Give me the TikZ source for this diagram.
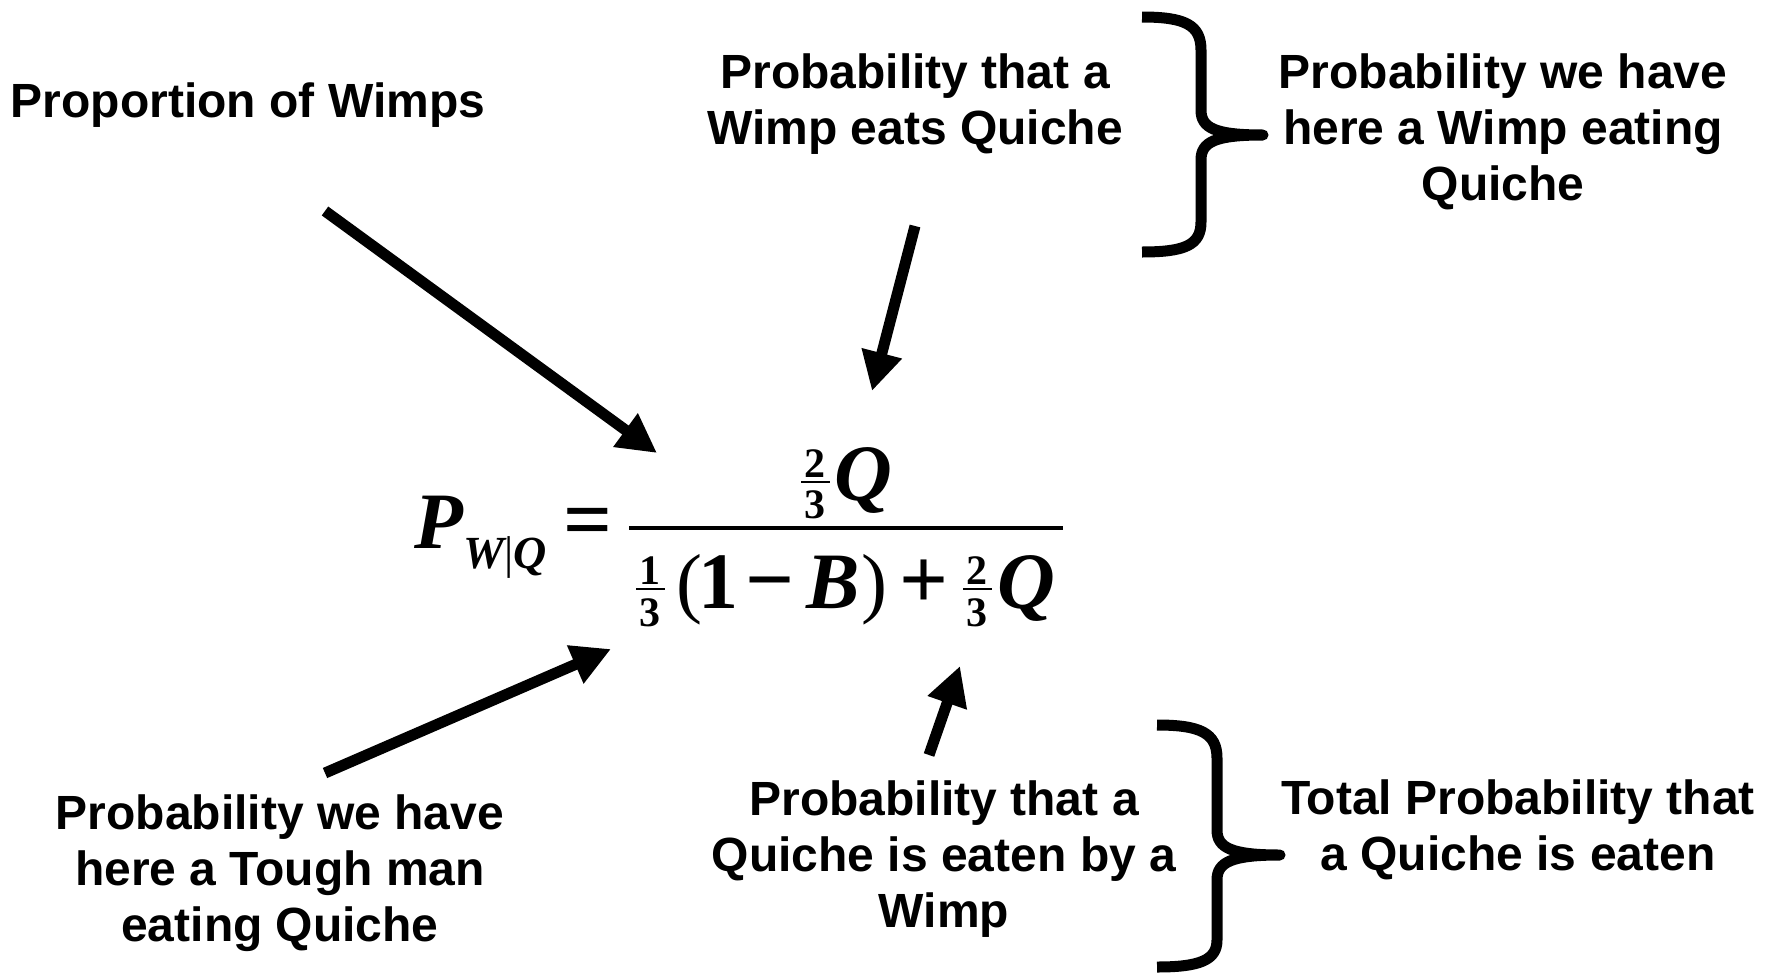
\documentclass[tikz,border=0pt]{standalone}
\usepackage{fontspec}
\setmainfont{Liberation Sans}
\newfontfamily\tnr{Liberation Serif}
\usetikzlibrary{arrows.meta}
\begin{document}
\begin{tikzpicture}[x=1pt,y=-1pt,
  lbl/.style={align=center, inner sep=0pt, font=\fontsize{48}{56}\selectfont\bfseries},
  big/.style={inner sep=0pt, anchor=base west, font=\tnr\fontsize{78}{78}\selectfont},
  bigbi/.style={big, font=\tnr\fontsize{80}{80}\selectfont\bfseries\itshape},
  bigbf/.style={big, font=\tnr\fontsize{80}{80}\selectfont\bfseries},
  bigop/.style={big, font=\tnr\fontsize{86}{86}\selectfont\bfseries},
  subsc/.style={inner sep=0pt, anchor=base west, font=\tnr\fontsize{46}{46}\selectfont\bfseries\itshape},
  sml/.style={inner sep=0pt, anchor=base, font=\tnr\fontsize{42}{42}\selectfont\bfseries},
  fracbar/.style={line width=2pt},
  mainbar/.style={line width=4pt},
  ptr/.style={line width=11pt, -{Triangle[length=39pt,width=39pt]}},
  brace/.style={line width=11pt, line join=round},
]
\useasboundingbox (0,0) rectangle (1775,972);

% labels
\node[lbl] (prop) at (248,105) {Proportion of Wimps};
\node[lbl] (wq) at (915,104) {Probability that a\\Wimp eats Quiche};
\node[lbl] (wimpq) at (1503,132) {Probability we have\\here a Wimp eating\\Quiche};
\node[lbl] (tough) at (280,873) {Probability we have\\here a Tough man\\eating Quiche};
\node[lbl] (qw) at (944,859) {Probability that a\\Quiche is eaten by a\\Wimp};
\node[lbl] (total) at (1518,830) {Total Probability that\\a Quiche is eaten};

% formula: left side
\node[bigbi] (P) at (414,548) {P};
\node[subsc] (sub) at (463,568) {W{\mdseries\upshape|}Q};
\node[bigop] (eq) at (563,548) {=};
\draw[mainbar] (629,528) -- (1063,528);

% numerator
\node[sml] (n2) at (815,477) {2};
\node[sml] (n3) at (815,518) {3};
\draw[fracbar] (801,481.5) -- (830,481.5);
\node[bigbi] (nQ) at (834,500) {Q};

% denominator
\node[sml] (d1) at (650,584) {1};
\node[sml] (d3) at (650,626) {3};
\draw[fracbar] (636,589) -- (665,589);
\node[big] (lp) at (676,608) {(};
\node[bigbf] (one) at (698,608) {1};
\node[bigop] (minus) at (745,608) {\char"2212};
\node[bigbi] (B) at (806,608) {B};
\node[big] (rp) at (861,608) {)};
\node[bigop] (plus) at (899,608) {+};
\node[sml] (e2) at (977,584) {2};
\node[sml] (e3) at (977,626) {3};
\draw[fracbar] (963,589) -- (992,589);
\node[bigbi] (dQ) at (997,608) {Q};

% arrows
\coordinate (a1s) at (325,211);
\coordinate (a1e) at (657,453);
\coordinate (a2s) at (915,226);
\coordinate (a2e) at (872,391);
\coordinate (a3s) at (325,773);
\coordinate (a3e) at (611,649);
\coordinate (a4s) at (929,755);
\coordinate (a4e) at (960,666);
\draw[ptr] (a1s) -- (a1e);
\draw[ptr] (a2s) -- (a2e);
\draw[ptr] (a3s) -- (a3e);
\draw[ptr] (a4s) -- (a4e);

% braces
\draw[brace] (1142,17) .. controls (1185,17) and (1201,25) .. (1201,50)
  -- (1201,110) .. controls (1201,128) and (1215,135) .. (1263,135)
  .. controls (1215,135) and (1201,142) .. (1201,160)
  -- (1201,222) .. controls (1201,245) and (1185,252) .. (1142,252);
\draw[brace] (1157,725) .. controls (1200,725) and (1217,733) .. (1217,758)
  -- (1217,830) .. controls (1217,848) and (1232,855) .. (1280,855)
  .. controls (1232,855) and (1217,862) .. (1217,880)
  -- (1217,940) .. controls (1217,960) and (1200,967) .. (1157,967);
\end{tikzpicture}
\end{document}
